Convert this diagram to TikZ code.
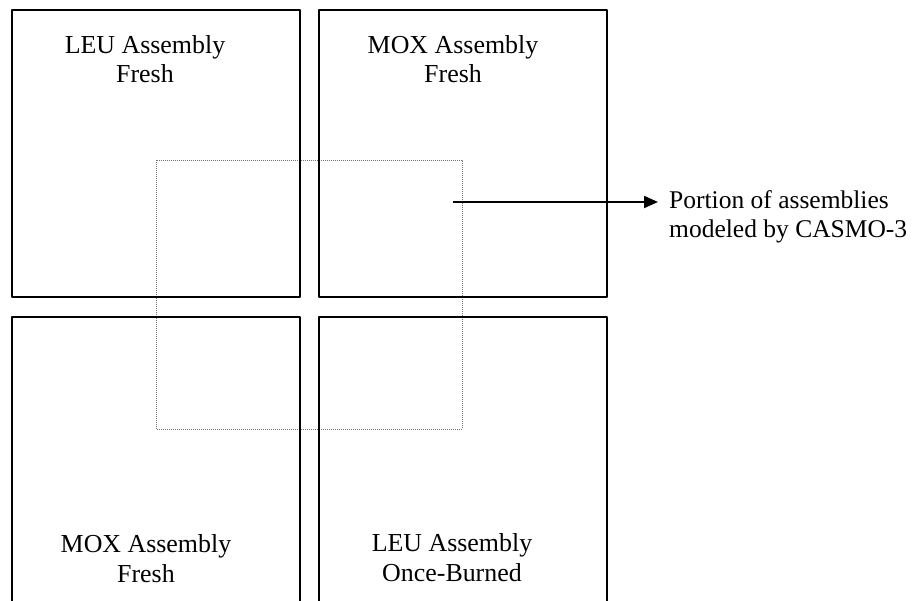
\documentclass[tikz,border=0pt]{standalone}
\usepackage{fontspec}
\setmainfont{Liberation Serif}
\usetikzlibrary{arrows.meta}
\begin{document}
\begin{tikzpicture}[x=1bp,y=-1bp,
  assy/.style={draw=black,line width=2.7bp,line join=round},
  lbl/.style={font=\fontsize{26}{30}\selectfont,align=center,inner sep=0pt,anchor=base},
  note/.style={font=\fontsize{25.6}{29.5}\selectfont,align=left,inner sep=0pt,anchor=base west},
  region/.style={draw=black!55,line width=0.9bp,dash pattern=on 1bp off 1bp},
  pointer/.style={line width=1.9bp,-{Triangle[length=14bp,width=12bp]},shorten >=11bp}]
\useasboundingbox (0,0) rectangle (919,601);
% modeled region (dotted)
\draw[region] (156,160) rectangle (462,429);
% assemblies
\node[assy,minimum width=288bp,minimum height=287bp,inner sep=0pt,outer sep=0pt,anchor=north west] (tl) at (12,10) {};
\node[assy,minimum width=288bp,minimum height=287bp,inner sep=0pt,outer sep=0pt,anchor=north west] (tr) at (319,10) {};
\draw[assy] (12,602) -- (12,317) coordinate (bltl) -- (300,317) -- (300,602);
\draw[assy] (319,602) -- (319,317) coordinate (brtl) -- (607,317) -- (607,602);
% labels
\node[lbl] (tltext) at (145,83) {LEU Assembly\\Fresh};
\node[lbl] (trtext) at (453,83) {MOX Assembly\\Fresh};
\node[lbl] (bltext) at (146,582) {MOX Assembly\\Fresh};
\node[lbl] (brtext) at (452,581) {LEU Assembly\\Once-Burned};
% pointer
\coordinate (pstart) at (453,202);
\node[note] (portion) at (669,238) {Portion of assemblies\\modeled by CASMO-3};
\draw[pointer] (pstart) -- (pstart -| portion.west);
\end{tikzpicture}
\end{document}
